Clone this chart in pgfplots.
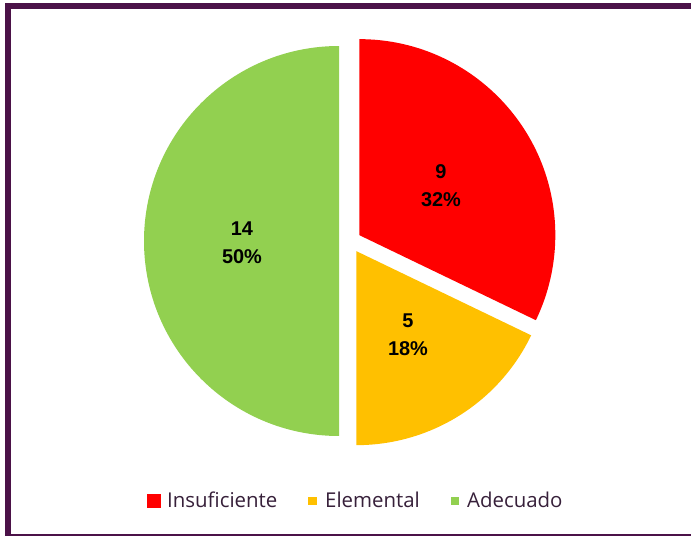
\documentclass[border=0pt]{standalone}
\usepackage{pgfplots}
\pgfplotsset{compat=1.18}
\usepackage{pgfplotstable}
\usepackage{fontspec}
\setmainfont{Open Sans}
\newfontfamily\labfont{Liberation Sans}
\definecolor{framec}{RGB}{75,18,72}
\definecolor{legtext}{RGB}{55,32,58}
\definecolor{pieRed}{RGB}{255,0,0}
\definecolor{pieYellow}{RGB}{255,192,0}
\definecolor{pieGreen}{RGB}{146,208,80}

\pgfplotstableread{
name value explode
Insuficiente 9 11
Elemental 5 12
Adecuado 14 11
}\piedata

\tikzset{lab/.style={anchor=base, inner sep=0pt, font=\labfont\bfseries\fontsize{20}{24}\selectfont},
  leg/.style={anchor=base west, inner sep=0pt, text=legtext, font=\fontsize{20.5}{24}\selectfont}}

\begin{document}
\begin{tikzpicture}
\useasboundingbox (0,0) rectangle (691bp,536bp);
\fill[white] (0,0) rectangle (691bp,536bp);
\pgfplotstablegetelem{0}{value}\of\piedata \edef\vA{\pgfplotsretval}
\pgfplotstablegetelem{1}{value}\of\piedata \edef\vB{\pgfplotsretval}
\pgfplotstablegetelem{2}{value}\of\piedata \edef\vC{\pgfplotsretval}
\pgfplotstablegetelem{0}{explode}\of\piedata \edef\eA{\pgfplotsretval}
\pgfplotstablegetelem{1}{explode}\of\piedata \edef\eB{\pgfplotsretval}
\pgfplotstablegetelem{2}{explode}\of\piedata \edef\eC{\pgfplotsretval}
\pgfmathsetmacro\tot{\vA+\vB+\vC}
\pgfmathsetmacro\aA{90}
\pgfmathsetmacro\aB{\aA-360*\vA/\tot}
\pgfmathsetmacro\aC{\aB-360*\vB/\tot}
\pgfmathsetmacro\aD{\aC-360*\vC/\tot}
\pgfmathsetmacro\xA{350+\eA*cos((\aA+\aB)/2)}
\pgfmathsetmacro\yA{295+\eA*sin((\aA+\aB)/2)}
\pgfmathsetmacro\xB{350+\eB*cos((\aB+\aC)/2)}
\pgfmathsetmacro\yB{295+\eB*sin((\aB+\aC)/2)}
\pgfmathsetmacro\xC{350+\eC*cos((\aC+\aD)/2)}
\pgfmathsetmacro\yC{295+\eC*sin((\aC+\aD)/2)}
\begin{axis}[at={(0,0)}, anchor=south west, x=1bp, y=1bp,
  xmin=0, xmax=691, ymin=0, ymax=536, scale only axis, hide axis, clip=false]
  % frame
  \fill[framec] (axis cs:5,527) rectangle (axis cs:691,533);
  \fill[framec] (axis cs:5,0) rectangle (axis cs:11,533);
  \fill[framec] (axis cs:5,0) rectangle (axis cs:691,2);
  % slices
  \fill[pieRed] (axis cs:\xA,\yA) -- ++(\aA:196bp) arc[start angle=\aA, end angle=\aB, radius=196bp] -- cycle;
  \fill[pieYellow] (axis cs:\xB,\yB) -- ++(\aB:194bp) arc[start angle=\aB, end angle=\aC, radius=194bp] -- cycle;
  \fill[pieGreen] (axis cs:\xC,\yC) -- ++(\aC:195bp) arc[start angle=\aC, end angle=\aD, radius=195bp] -- cycle;
  % data labels
  \node[lab] at (axis cs:441,358) {9};
  \node[lab] at (axis cs:441,330) {32\%};
  \node[lab] at (axis cs:408,208.5) {5};
  \node[lab] at (axis cs:408,180.5) {18\%};
  \node[lab] at (axis cs:242,301) {14};
  \node[lab] at (axis cs:242,273) {50\%};
  % legend
  \fill[pieRed] (axis cs:147,28) rectangle (axis cs:161,42);
  \fill[pieYellow] (axis cs:308,31) rectangle (axis cs:317,39);
  \fill[pieGreen] (axis cs:451,31) rectangle (axis cs:459,39);
  \node[leg] at (axis cs:167,29) {Insuficiente};
  \node[leg] at (axis cs:325,29) {Elemental};
  \node[leg] at (axis cs:467,29) {Adecuado};
\end{axis}
\end{tikzpicture}
\end{document}
